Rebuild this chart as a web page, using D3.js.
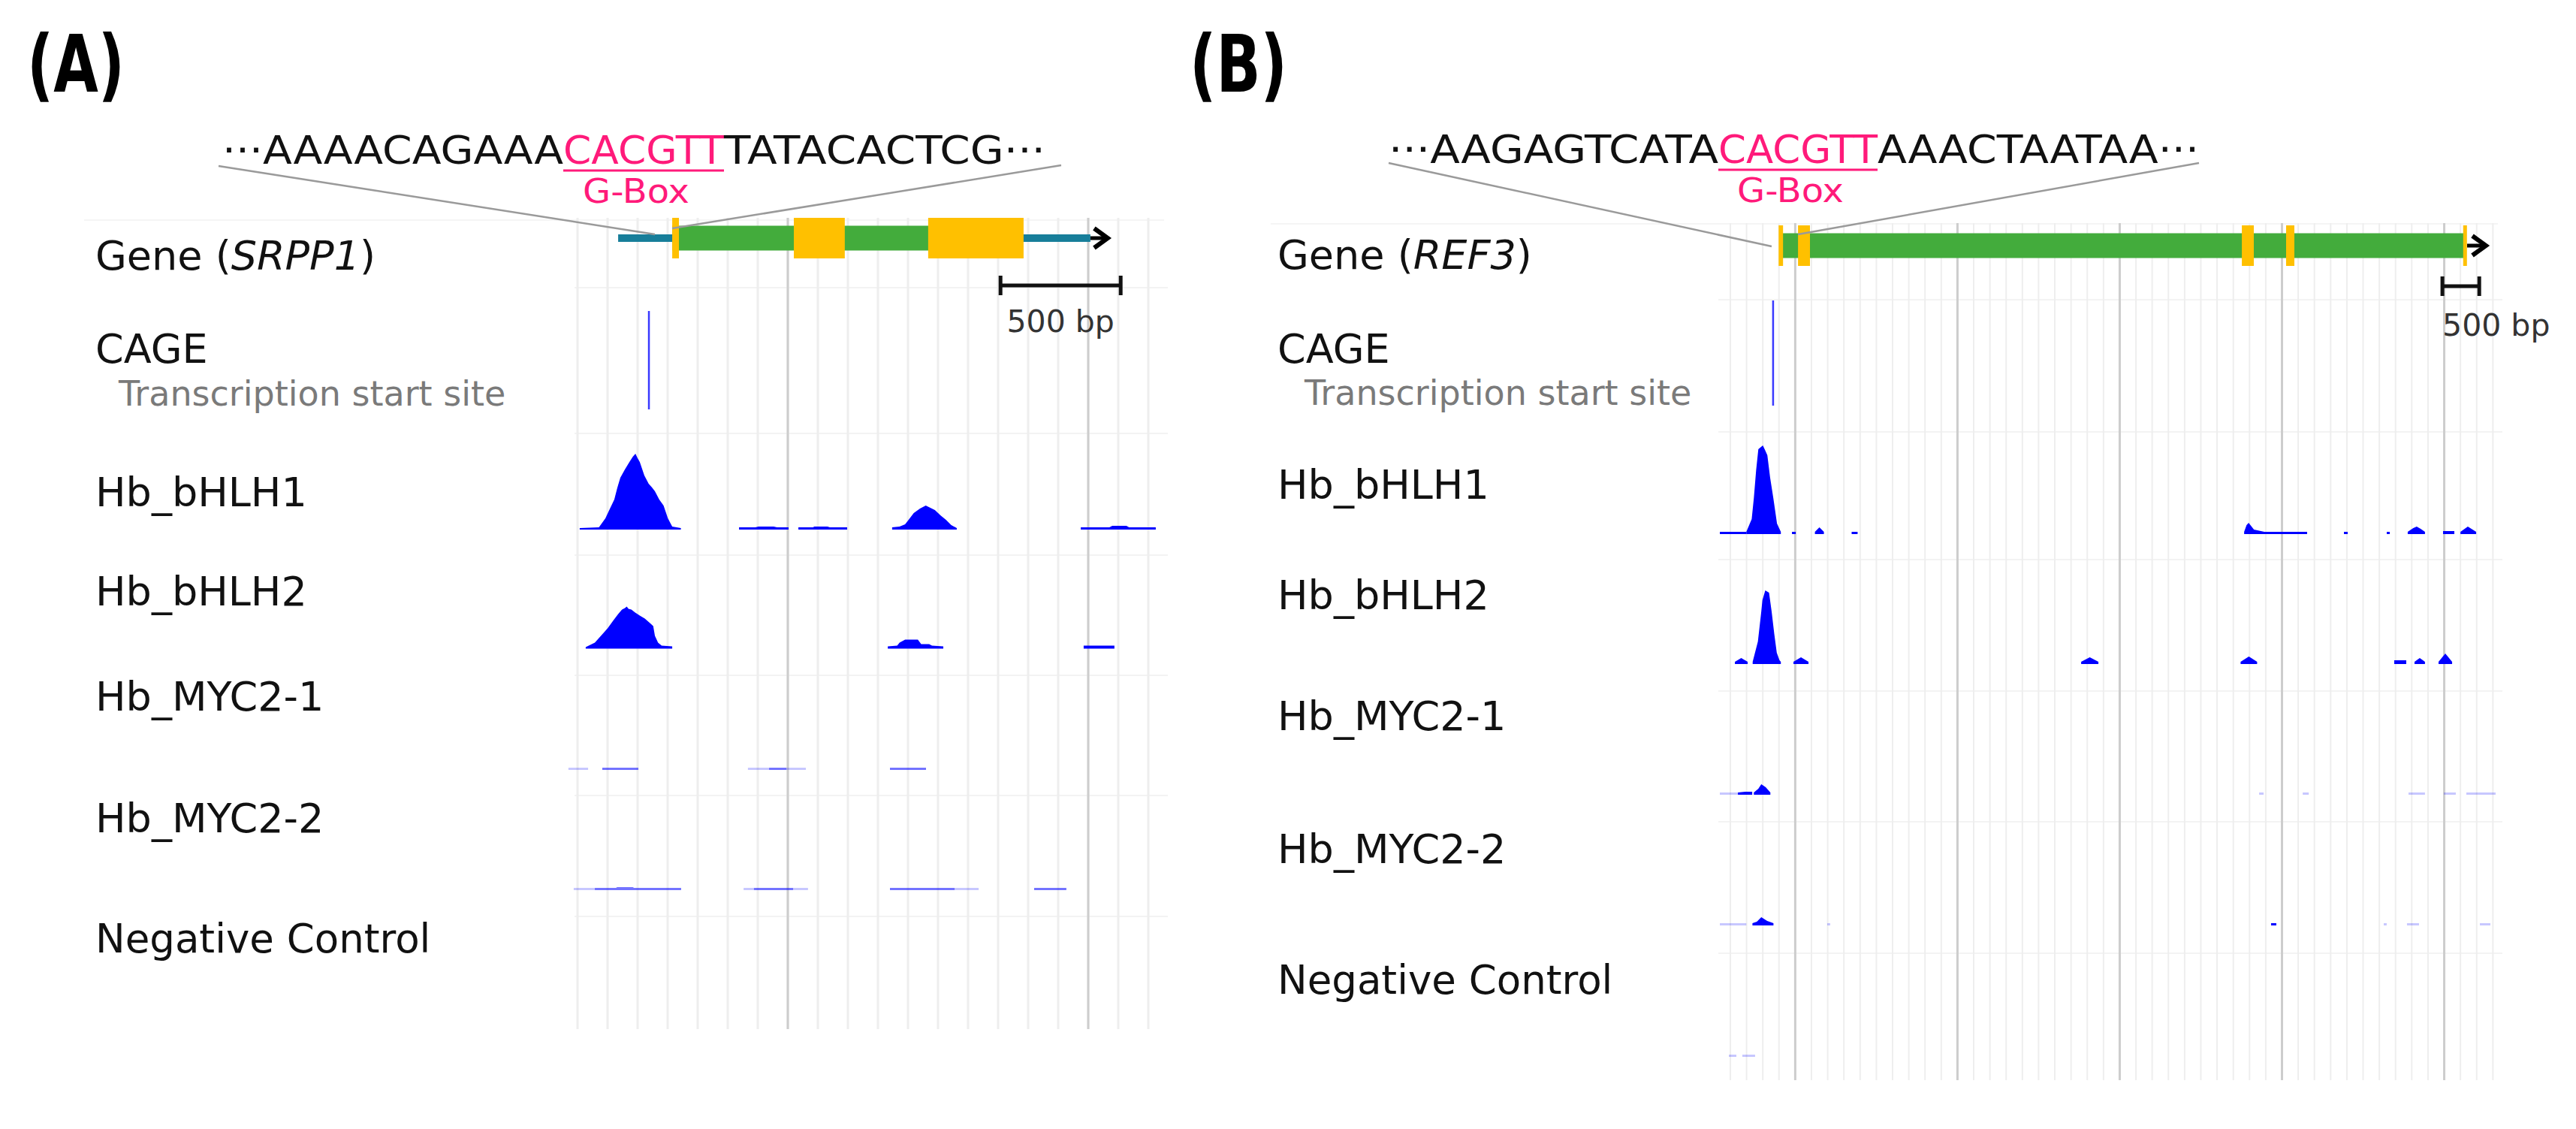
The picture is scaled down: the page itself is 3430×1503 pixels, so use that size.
<!DOCTYPE html>
<html><head><meta charset="utf-8">
<script src="https://cdn.jsdelivr.net/npm/d3@7"></script>
<style>body{margin:0;background:#fff;} text{font-family:"DejaVu Sans",sans-serif;}</style>
</head><body><script>
// ---------------- DATA ----------------
const panelLetters = ["(A)", "(B)"];
const geneNames = ["SRPP1", "REF3"];
const trackLabels = ["CAGE", "Hb_bHLH1", "Hb_bHLH2", "Hb_MYC2-1", "Hb_MYC2-2", "Negative Control"];
const tssSubLabel = "Transcription start site";
const motifLabel = "G-Box";
const scaleBarLabel = "500 bp";
const seqPartsA = ["···AAAACAGAAA", "CACGTT", "TATACACTCG···"];
const seqPartsB = ["···AAGAGTCATA", "CACGTT", "AAACTAATAA···"];

// gene models (bp)
const utrA = [[269, 2234]];
const cdsA = [[494, 1600]];
const exonsA = [[494, 522], [1000, 1212], [1559, 1956]];
const arrowA = [2234, 2306];
const scaleBarA = [1860, 2360];
const linkBpA = [422, 494];
const utrB = [];
const cdsB = [[1013, 10258]];
const exonsB = [[955, 1015], [1218, 1380], [7236, 7398], [7836, 7948], [10237, 10288]];
const arrowB = [10290, 10545];
const scaleBarB = [9955, 10455];
const linkBpB = [860, 1217];

// CAGE TSS signal [bp, height]
const cageA = [[397, 131]];
const cageB = [[880, 140]];

// ChIP signal segments [bp, value]
const bhlh1A = [
  [[109,2],[189,3],[216,15],[235,28],[253,40],[265,55],[278,69],[297,80],[316,90],[330,97],[341,101],[350,95],[359,90],[378,72],[396,61],[410,56],[422,51],[440,40],[458,32],[476,15],[494,4],[530,2]],
  [[772,3],[840,3],[853,4],[916,4],[930,3],[978,3]],
  [[1019,3],[1080,3],[1085,4],[1140,4],[1150,3],[1222,3]],
  [[1409,3],[1440,4],[1463,7],[1480,14],[1499,22],[1525,28],[1549,32],[1568,29],[1587,26],[1610,19],[1633,13],[1655,6],[1678,2]],
  [[2194,3],[2313,3],[2325,5],[2384,5],[2395,3],[2506,3]]
];
const bhlh2A = [
  [[134,2],[172,8],[200,18],[225,27],[250,38],[269,46],[285,52],[297,54],[305,56],[312,53],[324,52],[340,48],[359,44],[380,40],[405,33],[415,30],[422,17],[435,8],[450,4],[494,3]],
  [[1391,3],[1430,4],[1440,8],[1463,12],[1516,12],[1530,6],[1563,6],[1575,4],[1622,3]],
  [[2206,4],[2334,4]]
];
const myc21A = [[[203,3],[353,3]], [[897,3],[969,3]], [[1400,3],[1550,3]]];
const myc21Afaint = [[[62,3],[144,3]], [[809,3],[897,3]], [[969,3],[1050,3]]];
const myc22A = [[[172,3],[260,3],[265,4],[330,4],[335,3],[531,3]], [[834,3],[997,3]], [[1400,3],[1669,3]], [[2000,3],[2134,3]]];
const myc22Afaint = [[[84,3],[172,3]], [[791,3],[834,3]], [[997,3],[1059,3]], [[1669,3],[1769,3]]];
const negA = [];

const bhlh1B = [
  [[158,3],[517,3]],
  [[517,3],[590,20],[619,48],[650,85],[680,113],[741,118],[770,112],[802,105],[840,75],[883,48],[933,14],[985,3]],
  [[1136,3],[1187,3]],
  [[1447,3],[1508,9],[1569,3]],
  [[1945,3],[2026,3]],
  [[7267,3],[7300,12],[7328,15],[7400,6],[7541,3],[8121,3]],
  [[8620,3],[8671,3]],
  [[9201,3],[9242,3]],
  [[9485,3],[9560,8],[9607,10],[9660,7],[9719,3]],
  [[9964,4],[10117,4]],
  [[10200,3],[10300,10],[10413,3]]
];
const bhlh2B = [
  [[362,3],[448,8],[535,3]],
  [[603,3],[674,30],[720,70],[735,85],[774,98],[825,95],[860,70],[896,40],[930,15],[967,5],[985,3]],
  [[1156,3],[1258,9],[1360,3]],
  [[5057,3],[5174,9],[5291,3]],
  [[7219,3],[7331,10],[7443,3]],
  [[9302,5],[9465,5]],
  [[9577,3],[9648,8],[9719,3]],
  [[9903,3],[9995,14],[10087,3]]
];
const myc21B = [[[403,3],[500,4],[597,4]], [[619,3],[680,8],[720,14],[780,10],[843,3]]];
const myc21Bfaint = [[[158,3],[403,3]], [[7470,3],[7531,3]], [[8061,3],[8143,3]], [[9496,3],[9719,3]], [[9974,3],[10137,3]], [[10280,3],[10677,3]]];
const myc22B = [[[600,3],[660,5],[720,11],[800,6],[885,3]], [[7632,3],[7703,3]]];
const myc22Bfaint = [[[158,3],[517,3]], [[1614,3],[1655,3]], [[9160,3],[9200,3]], [[9475,3],[9638,3]], [[10463,3],[10606,3]]];
const negBfaint = [[[280,3],[382,3]], [[463,3],[636,3]]];

// ---------------- LAYOUT ----------------
const pink = "#ff1a7a";
const svg = d3.select("body").append("svg").attr("width", 3430).attr("height", 1503);

const panels = [
  {
    letter: panelLetters[0], letterX: 36, letterY: 122, gene: geneNames[0],
    r0: 737, ppb: 0.32, dmax: 2600,
    gridStart: 100, gridStep: 125, gridN: 20, majors: [975, 2225], minorW: 3, majorW: 3,
    gridTop: 290, gridBottom: 1370,
    sepYs: [383, 577, 739, 899, 1059, 1220], sepX: [765, 1555], topSep: [112, 1550, 293],
    labelX: 127, geneLabelY: 359, geneY: 317,
    rows: [{labelY: 483, base: 545}, {labelY: 674, base: 705}, {labelY: 806, base: 863.5},
           {labelY: 946, base: 1025}, {labelY: 1108, base: 1185}, {labelY: 1268, base: 1345}],
    tssX: 158, tssY: 540,
    seq: seqPartsA, seqX: 296, seqW: [454, 214, 428], seqY: 218,
    linkStart: [[291, 221], [1413, 220]], linkDy: [-5, -13], linkBp: linkBpA,
    utr: utrA, cds: cdsA, exons: exonsA, arrow: arrowA, scaleBar: scaleBarA,
    scaleY: 380, scaleTextY: 442, scaleAnchor: "middle",
    cage: cageA,
    signals: [
      {base: 1, solid: bhlh1A}, {base: 2, solid: bhlh2A},
      {base: 3, light: myc21A, faint: myc21Afaint}, {base: 4, light: myc22A, faint: myc22Afaint},
      {base: 5, solid: negA}
    ]
  },
  {
    letter: panelLetters[1], letterX: 1584, letterY: 122, gene: geneNames[1],
    r0: 2274.5, ppb: 0.0982, dmax: 11000,
    gridStart: 300, gridStep: 220, gridN: 48, majors: [1180, 3380, 5580, 7780, 9980], minorW: 2, majorW: 3,
    gridTop: 297, gridBottom: 1438,
    sepYs: [399, 575, 745, 920, 1094, 1269], sepX: [2288, 3332], topSep: [1692, 3326, 298],
    labelX: 1701, geneLabelY: 358, geneY: 327,
    rows: [{labelY: 483, base: 540}, {labelY: 664, base: 711}, {labelY: 811, base: 884},
           {labelY: 972, base: 1058}, {labelY: 1149, base: 1232}, {labelY: 1323, base: 1407}],
    tssX: 1737, tssY: 539,
    seq: seqPartsB, seqX: 1849, seqW: [439, 212, 428], seqY: 217,
    linkStart: [[1849, 217], [2928, 217]], linkDy: [1, -15], linkBp: linkBpB,
    utr: utrB, cds: cdsB, exons: exonsB, arrow: arrowB, scaleBar: scaleBarB,
    scaleY: 381, scaleTextY: 447, scaleAnchor: "start",
    cage: cageB,
    signals: [
      {base: 1, solid: bhlh1B}, {base: 2, solid: bhlh2B},
      {base: 3, solid: myc21B, faint: myc21Bfaint}, {base: 4, solid: myc22B, faint: myc22Bfaint},
      {base: 5, faint: negBfaint}
    ]
  }
];

function drawSignals(g, x, base, segs, opacity) {
  if (!segs || !segs.length) return;
  const y = d3.scaleLinear().domain([0, 100]).range([base, base - 100]);
  const area = d3.area().x(d => x(d[0])).y0(base).y1(d => y(d[1]));
  g.append("g").selectAll("path").data(segs).join("path")
    .attr("d", area).attr("fill", "#0000ff").attr("fill-opacity", opacity);
}

panels.forEach(p => {
  const g = svg.append("g");
  const x = d3.scaleLinear().domain([0, p.dmax]).range([p.r0, p.r0 + p.dmax * p.ppb]);

  // faint row separators
  g.append("line").attr("x1", p.topSep[0]).attr("x2", p.topSep[1]).attr("y1", p.topSep[2]).attr("y2", p.topSep[2])
    .attr("stroke", "#f5f5f5").attr("stroke-width", 2);
  g.selectAll(".sep").data(p.sepYs).join("line")
    .attr("x1", p.sepX[0]).attr("x2", p.sepX[1]).attr("y1", d => d).attr("y2", d => d)
    .attr("stroke", "#f3f3f3").attr("stroke-width", 2);

  // grid
  const minor = d3.range(p.gridN).map(i => p.gridStart + i * p.gridStep);
  g.append("g").selectAll("line").data(minor).join("line")
    .attr("x1", d => x(d)).attr("x2", d => x(d)).attr("y1", p.gridTop).attr("y2", p.gridBottom)
    .attr("stroke", "#eeeeee").attr("stroke-width", p.minorW);
  g.append("g").selectAll("line").data(p.majors).join("line")
    .attr("x1", d => x(d)).attr("x2", d => x(d)).attr("y1", p.gridTop).attr("y2", p.gridBottom)
    .attr("stroke", "#cdcdcd").attr("stroke-width", p.majorW);

  // panel letter
  g.append("text").attr("x", p.letterX).attr("y", p.letterY).attr("font-family", "Liberation Sans, Arial, sans-serif")
    .attr("font-weight", "bold").attr("font-size", 106).attr("textLength", 130).attr("lengthAdjust", "spacingAndGlyphs")
    .attr("fill", "#000").text(p.letter);

  // sequence
  let sx = p.seqX;
  const mid = {};
  p.seq.forEach((s, i) => {
    const w = p.seqW[i];
    g.append("text").attr("x", sx).attr("y", p.seqY).attr("font-size", 51)
      .attr("textLength", w).attr("lengthAdjust", "spacingAndGlyphs")
      .attr("fill", i === 1 ? pink : "#111").text(s);
    if (i === 1) { mid.x = sx; mid.w = w; }
    sx += w;
  });
  g.append("line").attr("x1", mid.x).attr("x2", mid.x + mid.w).attr("y1", p.seqY + 9).attr("y2", p.seqY + 9)
    .attr("stroke", pink).attr("stroke-width", 3);
  g.append("text").attr("x", mid.x + mid.w / 2 - 10).attr("y", p.seqY + 52).attr("font-size", 44)
    .attr("text-anchor", "middle").attr("textLength", 142).attr("lengthAdjust", "spacingAndGlyphs")
    .attr("fill", pink).text(motifLabel);

  // gene track
  const gy = p.geneY;
  g.append("g").selectAll("rect").data(p.utr).join("rect")
    .attr("x", d => x(d[0])).attr("width", d => x(d[1]) - x(d[0])).attr("y", gy - 5).attr("height", 10)
    .attr("fill", "#177e9a");
  g.append("g").selectAll("rect").data(p.cds).join("rect")
    .attr("x", d => x(d[0])).attr("width", d => x(d[1]) - x(d[0])).attr("y", gy - 16.5).attr("height", 33)
    .attr("fill", "#43ac3c");
  g.append("g").selectAll("rect").data(p.exons).join("rect")
    .attr("x", d => x(d[0])).attr("width", d => Math.max(4, x(d[1]) - x(d[0]))).attr("y", gy - 27).attr("height", 54)
    .attr("fill", "#ffc000");
  // arrow
  const ax0 = x(p.arrow[0]), ax1 = x(p.arrow[1]);
  g.append("line").attr("x1", ax0).attr("x2", ax1 - 2).attr("y1", gy).attr("y2", gy)
    .attr("stroke", "#000").attr("stroke-width", 5);
  g.append("path").attr("d", `M${ax1 - 18},${gy - 13}L${ax1},${gy}L${ax1 - 18},${gy + 13}`)
    .attr("fill", "none").attr("stroke", "#000").attr("stroke-width", 6);

  // connector lines from sequence to gene
  p.linkStart.forEach((s, i) => {
    g.append("line").attr("x1", s[0]).attr("y1", s[1]).attr("x2", x(p.linkBp[i])).attr("y2", gy + p.linkDy[i])
      .attr("stroke", "#9a9a9a").attr("stroke-width", 2.5);
  });

  // scale bar
  const sb0 = x(p.scaleBar[0]), sb1 = x(p.scaleBar[1]);
  g.append("line").attr("x1", sb0).attr("x2", sb1).attr("y1", p.scaleY).attr("y2", p.scaleY)
    .attr("stroke", "#111").attr("stroke-width", 5);
  [sb0, sb1].forEach(v => g.append("line").attr("x1", v).attr("x2", v).attr("y1", p.scaleY - 13).attr("y2", p.scaleY + 13)
    .attr("stroke", "#111").attr("stroke-width", 5));
  g.append("text").attr("x", p.scaleAnchor === "middle" ? (sb0 + sb1) / 2 : sb0).attr("y", p.scaleTextY)
    .attr("text-anchor", p.scaleAnchor).attr("font-size", 41).attr("fill", "#333").text(scaleBarLabel);

  // labels
  const gl = g.append("text").attr("x", p.labelX).attr("y", p.geneLabelY).attr("font-size", 54).attr("fill", "#111");
  gl.append("tspan").text("Gene (");
  gl.append("tspan").attr("font-style", "italic").text(p.gene);
  gl.append("tspan").text(")");
  g.append("g").selectAll("text").data(trackLabels).join("text")
    .attr("x", p.labelX).attr("y", (d, i) => p.rows[i].labelY).attr("font-size", (d, i) => i === 5 ? 53 : 54)
    .attr("fill", "#111").text(d => d);
  g.append("text").attr("x", p.tssX).attr("y", p.tssY).attr("font-size", 46).attr("fill", "#7a7a7a").text(tssSubLabel);

  // CAGE
  const cb = p.rows[0].base;
  const yc = d3.scaleLinear().domain([0, 100]).range([cb, cb - 100]);
  g.append("g").selectAll("rect").data(p.cage).join("rect")
    .attr("x", d => x(d[0]) - 1.25).attr("width", 2.5).attr("y", d => yc(d[1])).attr("height", d => cb - yc(d[1]))
    .attr("fill", "#3a3aff");

  // ChIP tracks
  p.signals.forEach(s => {
    const base = p.rows[s.base].base;
    drawSignals(g, x, base, s.faint, 0.22);
    drawSignals(g, x, base, s.light, 0.55);
    drawSignals(g, x, base, s.solid, 1);
  });
});
</script></body></html>
